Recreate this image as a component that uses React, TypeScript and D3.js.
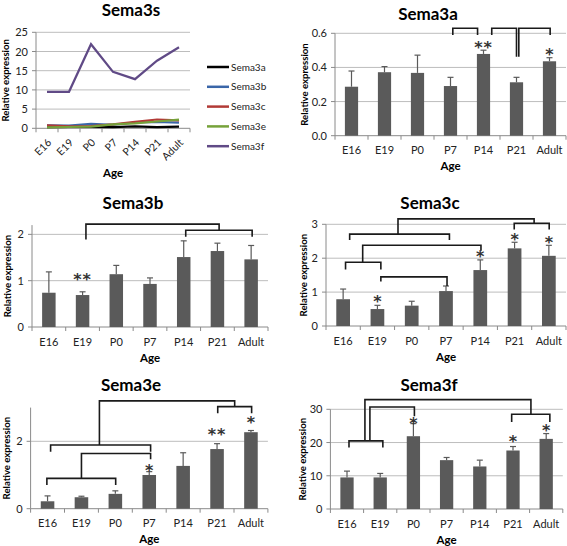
import React from "react";
import * as d3 from "d3";

const ages = ["E16", "E19", "P0", "P7", "P14", "P21", "Adult"];

const sema3a = [0.287, 0.372, 0.368, 0.291, 0.479, 0.313, 0.436];
const sema3aErr = [0.092, 0.033, 0.104, 0.051, 0.022, 0.029, 0.021];
const sema3b = [0.74, 0.69, 1.14, 0.93, 1.51, 1.64, 1.46];
const sema3bErr = [0.45, 0.07, 0.19, 0.13, 0.35, 0.17, 0.3];
const sema3c = [0.79, 0.5, 0.6, 1.03, 1.65, 2.29, 2.07];
const sema3cErr = [0.3, 0.11, 0.13, 0.15, 0.3, 0.18, 0.31];
const sema3e = [0.22, 0.34, 0.44, 1.0, 1.27, 1.77, 2.27];
const sema3eErr = [0.16, 0.03, 0.09, 0.1, 0.39, 0.16, 0.05];
const sema3f = [9.5, 9.5, 21.9, 14.7, 12.8, 17.6, 21.1];
const sema3fErr = [1.9, 1.2, 3.8, 0.8, 1.9, 1.2, 1.6];

const lineNames = ["Sema3a", "Sema3b", "Sema3c", "Sema3e", "Sema3f"];
const lineSeries = [sema3a, sema3b, sema3c, sema3e, sema3f];
const lineColors = ["#000000", "#3a66a8", "#b23a36", "#76a23a", "#604a86"];
const lineTicks = [0, 5, 10, 15, 20, 25];

// brackets: x in category index units, y in value units
type Bracket = { x1: number; x2: number; top: number; b1: number; b2: number };
type Star = { i: number; v: number; label: string };

const bracketsA: Bracket[] = [
  { x1: 3.07, x2: 3.82, top: 0.63, b1: 0.59, b2: 0.59 },
  { x1: 4.25, x2: 5.0, top: 0.63, b1: 0.59, b2: 0.463 },
  { x1: 5.07, x2: 6.02, top: 0.63, b1: 0.463, b2: 0.59 },
];
const starsA: Star[] = [
  { i: 4, v: 0.543, label: "**" },
  { i: 6, v: 0.502, label: "*" },
];
const bracketsB: Bracket[] = [
  { x1: 1.1, x2: 5.05, top: 2.22, b1: 1.89, b2: 2.09 },
  { x1: 4.06, x2: 6.03, top: 2.09, b1: 1.95, b2: 1.95 },
];
const starsB: Star[] = [{ i: 1, v: 1.12, label: "**" }];
const bracketsC: Bracket[] = [
  { x1: 1.6, x2: 5.57, top: 3.16, b1: 2.71, b2: 3.03 },
  { x1: 0.19, x2: 3.1, top: 2.71, b1: 2.54, b2: 2.54 },
  { x1: 4.99, x2: 6.01, top: 3.03, b1: 2.85, b2: 2.85 },
  { x1: 0.57, x2: 4.02, top: 2.38, b1: 1.88, b2: 2.22 },
  { x1: 0.07, x2: 1.1, top: 1.88, b1: 1.67, b2: 1.67 },
  { x1: 1.1, x2: 3.03, top: 1.45, b1: 1.31, b2: 1.18 },
];
const starsC: Star[] = [
  { i: 1, v: 0.83, label: "*" },
  { i: 4, v: 2.16, label: "*" },
  { i: 5, v: 2.68, label: "*" },
  { i: 6, v: 2.59, label: "*" },
];
const bracketsE: Bracket[] = [
  { x1: 1.53, x2: 5.52, top: 3.2, b1: 1.89, b2: 3.03 },
  { x1: 5.02, x2: 6.02, top: 3.03, b1: 2.83, b2: 2.83 },
  { x1: 0.09, x2: 3.04, top: 1.89, b1: 1.69, b2: 1.69 },
  { x1: 1.0, x2: 3.04, top: 1.64, b1: 0.9, b2: 1.47 },
  { x1: -0.02, x2: 2.01, top: 0.9, b1: 0.7, b2: 0.7 },
];
const starsE: Star[] = [
  { i: 3, v: 1.25, label: "*" },
  { i: 5, v: 2.31, label: "**" },
  { i: 6, v: 2.68, label: "*" },
];
const bracketsF: Bracket[] = [
  { x1: 0.54, x2: 5.54, top: 32.9, b1: 20.5, b2: 28.5 },
  { x1: 0.69, x2: 2.03, top: 30.7, b1: 20.5, b2: 27.9 },
  { x1: 0.06, x2: 1.08, top: 20.5, b1: 18.5, b2: 18.5 },
  { x1: 4.96, x2: 6.11, top: 28.5, b1: 26.2, b2: 26.2 },
];
const starsF: Star[] = [
  { i: 2, v: 26.9, label: "*" },
  { i: 5, v: 21.5, label: "*" },
  { i: 6, v: 24.9, label: "*" },
];

const FONT = "Lato, 'Open Sans', sans-serif";
const STARFONT = "'DejaVu Sans', sans-serif";
const GRID = "#bdbdbd";
const AXIS = "#8a8a8a";
const BAR = "#5a5a5a";
const TITLE_SIZE = 17;
const YLAB_SIZE = 9.6;

type Box = { x0: number; x1: number; yt: number; yb: number };

function BarPanel(props: {
  title: string;
  values: number[];
  errors: number[];
  yMax: number;
  ticks: number[];
  fmt: (v: number) => string;
  box: Box;
  brackets: Bracket[];
  stars: Star[];
  titleX: number;
  titleY: number;
  ylabX: number;
}) {
  const { title, values, errors, yMax, ticks, fmt, box, brackets, stars, titleX, titleY, ylabX } = props;
  const x = d3.scaleBand<string>().domain(ages).range([box.x0, box.x1]).paddingInner(0.6).paddingOuter(0.3);
  const xi = d3.scaleLinear().domain([-0.5, ages.length - 0.5]).range([box.x0, box.x1]);
  const y = d3.scaleLinear().domain([0, yMax]).range([box.yb, box.yt]);
  const bw = x.bandwidth();
  const boundaries = d3.range(ages.length + 1).map((k) => xi(k - 0.5));
  const midY = (box.yt + box.yb) / 2;
  return (
    <g>
      <text x={titleX} y={titleY} textAnchor="middle" fontFamily={FONT} fontWeight="bold" fontSize={TITLE_SIZE}>
        {title}
      </text>
      {ticks.filter((t) => t > 0).map((t) => (
        <line key={"g" + t} x1={box.x0} x2={box.x1} y1={y(t)} y2={y(t)} stroke={GRID} strokeWidth={1} />
      ))}
      <line x1={box.x0} x2={box.x0} y1={box.yt} y2={box.yb} stroke={AXIS} />
      {ticks.map((t) => (
        <g key={"t" + t}>
          <line x1={box.x0 - 4} x2={box.x0} y1={y(t)} y2={y(t)} stroke={AXIS} />
          <text x={box.x0 - 8} y={y(t) + 4} textAnchor="end" fontFamily={FONT} fontSize={11} fill="#222">
            {fmt(t)}
          </text>
        </g>
      ))}
      <line x1={box.x0} x2={box.x1} y1={box.yb} y2={box.yb} stroke={AXIS} />
      {boundaries.map((bx, k) => (
        <line key={"b" + k} x1={bx} x2={bx} y1={box.yb} y2={box.yb + 4} stroke={AXIS} />
      ))}
      {ages.map((a, i) => {
        const cx = (x(a) as number) + bw / 2;
        return (
          <g key={a}>
            <rect x={x(a)} y={y(values[i])} width={bw} height={box.yb - y(values[i])} fill={BAR} />
            <line x1={cx} x2={cx} y1={y(values[i])} y2={y(values[i] + errors[i])} stroke={BAR} strokeWidth={1.2} />
            <line x1={cx - 3} x2={cx + 3} y1={y(values[i] + errors[i])} y2={y(values[i] + errors[i])} stroke={BAR} strokeWidth={1.2} />
            <text x={cx} y={box.yb + 18.5} textAnchor="middle" fontFamily={FONT} fontSize={11} fill="#222">
              {a}
            </text>
          </g>
        );
      })}
      {brackets.map((b, k) => (
        <path
          key={"br" + k}
          d={`M${xi(b.x1)},${y(b.b1)}V${y(b.top)}H${xi(b.x2)}V${y(b.b2)}`}
          fill="none"
          stroke="#1a1a1a"
          strokeWidth={1.6}
        />
      ))}
      {stars.map((s, k) => (
        <text
          key={"s" + k}
          x={xi(s.i)}
          y={y(s.v) + 9.5}
          textAnchor="middle"
          fontFamily={STARFONT}
          fontWeight="bold"
          fontSize={16}
          fill="#333333"
          letterSpacing={s.label.length > 1 ? 1 : 0}
        >
          {s.label}
        </text>
      ))}
      <text
        transform={`translate(${ylabX},${midY}) rotate(-90)`}
        textAnchor="middle"
        fontFamily={FONT}
        fontWeight="bold"
        fontSize={YLAB_SIZE}
      >
        Relative expression
      </text>
      <text x={(box.x0 + box.x1) / 2} y={box.yb + 34.5} textAnchor="middle" fontFamily={FONT} fontWeight="bold" fontSize={11.5}>
        Age
      </text>
    </g>
  );
}

function LinePanel() {
  const box: Box = { x0: 36, x1: 190, yt: 32.3, yb: 128.3 };
  const xi = d3.scaleLinear().domain([-0.5, ages.length - 0.5]).range([box.x0, box.x1]);
  const y = d3.scaleLinear().domain([0, 25]).range([box.yb, box.yt]);
  const line = d3
    .line<number>()
    .x((_, i) => xi(i))
    .y((v) => y(v));
  const boundaries = d3.range(ages.length + 1).map((k) => xi(k - 0.5));
  return (
    <g>
      <text x={131} y={15.5} textAnchor="middle" fontFamily={FONT} fontWeight="bold" fontSize={TITLE_SIZE}>
        Sema3s
      </text>
      {lineTicks.filter((t) => t > 0).map((t) => (
        <line key={"g" + t} x1={box.x0} x2={box.x1} y1={y(t)} y2={y(t)} stroke={GRID} />
      ))}
      <line x1={box.x0} x2={box.x0} y1={box.yt} y2={box.yb} stroke={AXIS} />
      {lineTicks.map((t) => (
        <g key={"t" + t}>
          <line x1={box.x0 - 4} x2={box.x0} y1={y(t)} y2={y(t)} stroke={AXIS} />
          <text x={box.x0 - 8} y={y(t) + 4} textAnchor="end" fontFamily={FONT} fontSize={11} fill="#222">
            {t}
          </text>
        </g>
      ))}
      <line x1={box.x0} x2={box.x1} y1={box.yb} y2={box.yb} stroke={AXIS} />
      {boundaries.map((bx, k) => (
        <line key={"b" + k} x1={bx} x2={bx} y1={box.yb} y2={box.yb + 4} stroke={AXIS} />
      ))}
      {lineSeries.map((s, k) => (
        <path key={lineNames[k]} d={line(s) as string} fill="none" stroke={lineColors[k]} strokeWidth={2.2} />
      ))}
      {ages.map((a, i) => (
        <text
          key={a}
          transform={`translate(${xi(i) + 5},${box.yb + 15}) rotate(-45)`}
          textAnchor="end"
          fontFamily={FONT}
          fontSize={10.5}
          fill="#222"
        >
          {a}
        </text>
      ))}
      <text
        transform={`translate(9,${(box.yt + box.yb) / 2}) rotate(-90)`}
        textAnchor="middle"
        fontFamily={FONT}
        fontWeight="bold"
        fontSize={YLAB_SIZE}
      >
        Relative expression
      </text>
      <text x={113} y={177} textAnchor="middle" fontFamily={FONT} fontWeight="bold" fontSize={11.5}>
        Age
      </text>
      {lineNames.map((n, k) => {
        const ly = 67 + k * 19.8;
        return (
          <g key={"l" + n}>
            <line x1={207} x2={229} y1={ly} y2={ly} stroke={lineColors[k]} strokeWidth={2.5} />
            <text x={231} y={ly + 3.5} fontFamily={FONT} fontSize={10} fill="#222">
              {n}
            </text>
          </g>
        );
      })}
    </g>
  );
}

export default function App() {
  const f1 = (v: number) => v.toFixed(1);
  const f0 = (v: number) => String(v);
  return (
    <svg width={567} height={546} style={{ position: "absolute", left: 0, top: 0, background: "#fff" }}>
      <rect width={567} height={546} fill="#fff" />
      <LinePanel />
      <BarPanel
        title="Sema3a"
        values={sema3a}
        errors={sema3aErr}
        yMax={0.6}
        ticks={[0, 0.2, 0.4, 0.6]}
        fmt={f1}
        box={{ x0: 335, x1: 566, yt: 33.3, yb: 135.7 }}
        brackets={bracketsA}
        stars={starsA}
        titleX={428}
        titleY={19.5}
        ylabX={308}
      />
      <BarPanel
        title="Sema3b"
        values={sema3b}
        errors={sema3bErr}
        yMax={2.2}
        ticks={[0, 1, 2]}
        fmt={f0}
        box={{ x0: 32, x1: 268, yt: 225.1, yb: 327 }}
        brackets={bracketsB}
        stars={starsB}
        titleX={133}
        titleY={208.5}
        ylabX={11}
      />
      <BarPanel
        title="Sema3c"
        values={sema3c}
        errors={sema3cErr}
        yMax={3}
        ticks={[0, 1, 2, 3]}
        fmt={f0}
        box={{ x0: 326, x1: 566, yt: 224.3, yb: 326 }}
        brackets={bracketsC}
        stars={starsC}
        titleX={430}
        titleY={208.5}
        ylabX={307}
      />
      <BarPanel
        title="Sema3e"
        values={sema3e}
        errors={sema3eErr}
        yMax={3}
        ticks={[0, 2]}
        fmt={f0}
        box={{ x0: 30.6, x1: 267.9, yt: 407.6, yb: 508.7 }}
        brackets={bracketsE}
        stars={starsE}
        titleX={131}
        titleY={390.5}
        ylabX={10}
      />
      <BarPanel
        title="Sema3f"
        values={sema3f}
        errors={sema3fErr}
        yMax={30}
        ticks={[0, 10, 20, 30]}
        fmt={f0}
        box={{ x0: 330.4, x1: 562.8, yt: 409.3, yb: 509 }}
        brackets={bracketsF}
        stars={starsF}
        titleX={429}
        titleY={390.5}
        ylabX={306}
      />
    </svg>
  );
}
